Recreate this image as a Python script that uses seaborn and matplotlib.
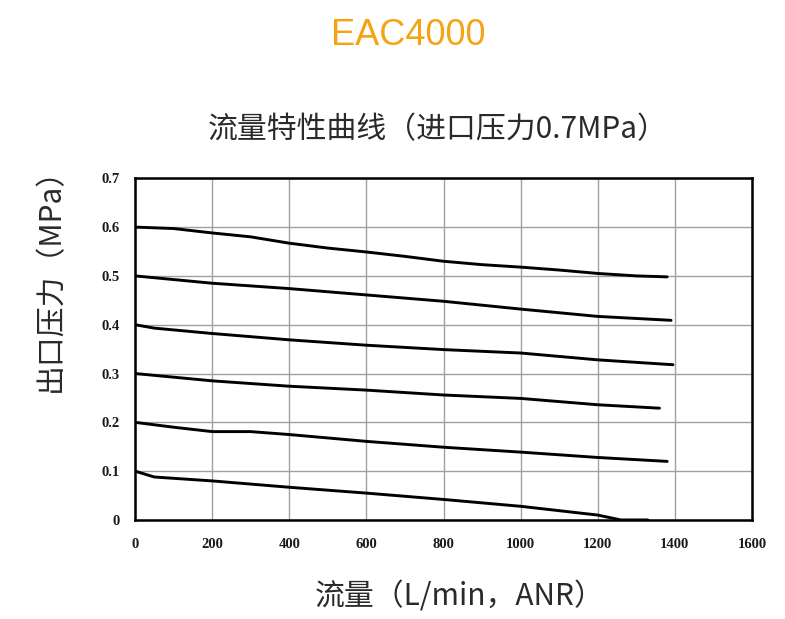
import matplotlib
matplotlib.use("Agg")
import matplotlib.pyplot as plt
import pandas as pd
import seaborn as sns
import numpy as np

sns.set_theme(style="white")
plt.rcParams['font.family'] = ['Noto Sans CJK SC', 'DejaVu Sans']

# Flow characteristic curves, one per set outlet pressure
flow_06 = [0, 100, 200, 300, 400, 500, 600, 700, 800, 900, 1000, 1100, 1200, 1300, 1380]
pres_06 = [0.6, 0.597, 0.588, 0.58, 0.567, 0.557, 0.549, 0.54, 0.53, 0.523, 0.518, 0.512, 0.505, 0.5, 0.498]
flow_05 = [0, 200, 400, 600, 800, 1000, 1200, 1390]
pres_05 = [0.5, 0.485, 0.474, 0.461, 0.448, 0.432, 0.417, 0.409]
flow_04 = [0, 50, 200, 400, 600, 800, 1000, 1200, 1395]
pres_04 = [0.4, 0.393, 0.382, 0.369, 0.358, 0.349, 0.342, 0.328, 0.318]
flow_03 = [0, 200, 400, 600, 800, 1000, 1200, 1360]
pres_03 = [0.3, 0.285, 0.274, 0.266, 0.256, 0.249, 0.236, 0.229]
flow_02 = [0, 100, 200, 300, 400, 600, 800, 1000, 1200, 1380]
pres_02 = [0.2, 0.19, 0.181, 0.181, 0.175, 0.161, 0.149, 0.139, 0.128, 0.12]
flow_01 = [0, 50, 200, 400, 600, 800, 1000, 1200, 1260, 1330]
pres_01 = [0.1, 0.088, 0.08, 0.067, 0.055, 0.042, 0.028, 0.01, 0.0, 0.0]

curves = {
    '0.6': (flow_06, pres_06),
    '0.5': (flow_05, pres_05),
    '0.4': (flow_04, pres_04),
    '0.3': (flow_03, pres_03),
    '0.2': (flow_02, pres_02),
    '0.1': (flow_01, pres_01),
}

x_ticks = [0, 200, 400, 600, 800, 1000, 1200, 1400, 1600]
y_ticks = [0, 0.1, 0.2, 0.3, 0.4, 0.5, 0.6, 0.7]
y_ticklabels = ['0', '0.1', '0.2', '0.3', '0.4', '0.5', '0.6', '0.7']

rows = []
for name, (fx, py) in curves.items():
    for a, b in zip(fx, py):
        rows.append({'curve': name, 'flow': a, 'pressure': b})
df = pd.DataFrame(rows)

fig = plt.figure(figsize=(7.85, 6.19), dpi=100)
ax = fig.add_axes([0.172, 0.160, 0.786, 0.552])

sns.lineplot(data=df, x='flow', y='pressure', hue='curve', units='curve',
             estimator=None, sort=False, palette=['black'] * 6,
             linewidth=2.1, legend=False, ax=ax)

ax.set_xlim(0, 1600)
ax.set_ylim(0, 0.7)
ax.set_xticks(x_ticks)
ax.set_yticks(y_ticks)
ax.set_yticklabels(y_ticklabels)
ax.grid(True, color='#a0a0a0', linewidth=1.0)
ax.set_axisbelow(True)
for s in ax.spines.values():
    s.set_color('black')
    s.set_linewidth(1.8)
ax.tick_params(axis='both', length=0, labelsize=10.5)
ax.tick_params(axis='x', pad=13)
ax.tick_params(axis='y', pad=11)
for lab in ax.get_xticklabels() + ax.get_yticklabels():
    lab.set_family('Liberation Serif')
    lab.set_fontweight('bold')
    lab.set_color('#1a1a1a')
ax.set_xlabel('')
ax.set_ylabel('')

fig.text(0.52, 0.943, 'EAC4000', ha='center', va='center', fontsize=26,
         color='#f5a311', family='Liberation Sans')
fig.text(0.558, 0.79, '流量特性曲线（进口压力0.7MPa）', ha='center', va='center',
         fontsize=21.5, color='#2a2a2a')
fig.text(0.064, 0.56, '出口压力（MPa）', ha='center', va='center',
         fontsize=21.5, rotation=90, color='#2a2a2a')
fig.text(0.586, 0.036, '流量（L/min，ANR）', ha='center', va='center',
         fontsize=21.5, color='#2a2a2a')

fig.savefig('out.png', dpi=100, facecolor='white')
